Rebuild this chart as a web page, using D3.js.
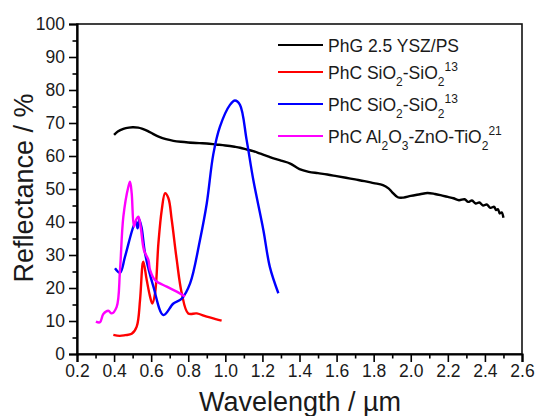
<!DOCTYPE html>
<html>
<head>
<meta charset="utf-8">
<title>Reflectance</title>
<script src="https://d3js.org/d3.v7.min.js"></script>
<style>
  body { margin: 0; background: #fff; }
  text { font-family: "Liberation Sans", Arial, sans-serif; fill: #1a1a1a; }
</style>
</head>
<body>
<div id="chart"></div>
<script>
// data (wavelength in um, reflectance in %)
const phgX = [0.40,0.42,0.45,0.48,0.50,0.53,0.55,0.58,0.61,0.64,0.68,0.72,0.76,0.80,0.86,0.90,0.95,1.00,1.05,1.08,1.12,1.15,1.19,1.23,1.26,1.30,1.35,1.40,1.45,1.50,1.55,1.60,1.65,1.70,1.75,1.80,1.85,1.88,1.90,1.93,1.96,2.00,2.05,2.09,2.13,2.17,2.20,2.23,2.26,2.29,2.31,2.33,2.35,2.37,2.39,2.41,2.43,2.45,2.46,2.47,2.48,2.49,2.50];
const phgY = [66.4,67.4,68.2,68.6,68.7,68.6,68.3,67.6,66.7,65.9,65.1,64.6,64.3,64.1,63.9,63.8,63.5,63.2,62.8,62.5,61.9,61.5,60.7,59.9,59.3,58.6,57.7,56.0,55.2,54.8,54.4,53.9,53.4,52.9,52.4,51.8,51.2,50.2,49.0,47.5,47.4,47.9,48.4,48.8,48.5,48.0,47.6,47.2,46.6,46.9,46.1,46.5,45.6,45.9,45.0,45.3,44.3,44.6,43.6,43.9,42.6,42.9,41.3];

const redX = [0.396,0.43,0.46,0.495,0.522,0.54,0.554,0.558,0.576,0.594,0.606,0.621,0.639,0.657,0.675,0.693,0.711,0.738,0.765,0.80,0.846,0.90,0.953,0.98];
const redY = [5.8,5.5,5.7,6.1,8.3,16.4,27.4,28.0,22.4,17.4,15.3,18.4,33.5,43.6,48.7,47.2,40.6,28.5,18.4,12.3,12.3,11.3,10.5,10.1];

const blueX = [0.405,0.432,0.459,0.504,0.518,0.527,0.536,0.549,0.567,0.612,0.666,0.72,0.765,0.81,0.863,0.90,0.935,0.971,1.025,1.052,1.079,1.115,1.151,1.205,1.24,1.286];
const blueY = [26.0,24.6,29.5,38.6,40.1,38.1,40.8,38.1,30.5,20.4,11.8,15.3,16.8,21.4,34.5,45.7,60.5,68.9,75.5,76.8,75.5,64.8,52.7,37.6,26.4,18.4];

const magX = [0.302,0.324,0.342,0.369,0.387,0.414,0.432,0.45,0.477,0.486,0.495,0.507,0.518,0.531,0.543,0.561,0.585,0.594,0.621,0.684,0.738,0.783];
const magY = [9.8,9.6,12.1,13.1,12.3,14.3,25.5,41.6,50.7,52.2,48.7,38.6,40.6,41.6,38.6,31.5,28.5,25.5,22.4,20.4,18.9,17.4];

const xTicks = [0.2,0.4,0.6,0.8,1.0,1.2,1.4,1.6,1.8,2.0,2.2,2.4,2.6];
const yTicks = [0,10,20,30,40,50,60,70,80,90,100];

const series = [
  {x: phgX, y: phgY, color: "#000000"},
  {x: redX, y: redY, color: "#ff0000"},
  {x: blueX, y: blueY, color: "#0000ff"},
  {x: magX, y: magY, color: "#ff00ff"}
];

const W = 536, H = 416;
const margin = {top: 24, right: 14, bottom: 62, left: 77};
const w = W - margin.left - margin.right;
const h = H - margin.top - margin.bottom;

const svg = d3.select("#chart").append("svg")
    .attr("width", W).attr("height", H);
const g = svg.append("g")
    .attr("transform", "translate(" + margin.left + "," + margin.top + ")");

const x = d3.scaleLinear().domain([0.2, 2.6]).range([0, w]);
const y = d3.scaleLinear().domain([0, 100]).range([h, 0]);

// curves
const line = d3.line().x(d => x(d[0])).y(d => y(d[1])).curve(d3.curveCatmullRom.alpha(0.5));
series.forEach(s => {
  g.append("path")
    .datum(s.x.map((v, i) => [v, s.y[i]]))
    .attr("fill", "none")
    .attr("stroke", s.color)
    .attr("stroke-width", 2.4)
    .attr("stroke-linejoin", "round")
    .attr("d", line);
});

// frame
g.append("rect").attr("width", w).attr("height", h)
  .attr("fill", "none").attr("stroke", "#111").attr("stroke-width", 1.6);

// minor ticks
const xMinor = d3.range(0.3, 2.6, 0.2);
const yMinor = d3.range(5, 100, 10);
g.append("g").attr("transform", "translate(0," + h + ")")
  .call(d3.axisBottom(x).tickValues(xMinor).tickSize(4.5).tickFormat(""))
  .call(a => a.select(".domain").remove())
  .selectAll("line").attr("stroke-width", 1.6);
g.append("g")
  .call(d3.axisLeft(y).tickValues(yMinor).tickSize(4.5).tickFormat(""))
  .call(a => a.select(".domain").remove())
  .selectAll("line").attr("stroke-width", 1.6);

// major axes
const xAxis = g.append("g").attr("transform", "translate(0," + h + ")")
  .call(d3.axisBottom(x).tickValues(xTicks).tickSize(8).tickPadding(3).tickFormat(d3.format(".1f")));
const yAxis = g.append("g")
  .call(d3.axisLeft(y).tickValues(yTicks).tickSize(8).tickPadding(4));
[xAxis, yAxis].forEach(a => {
  a.select(".domain").attr("stroke-width", 2.2);
  a.selectAll("line").attr("stroke-width", 1.6);
  a.selectAll("text").style("font-size", "17.5px")
    .style("font-family", "'Liberation Sans', Arial, sans-serif").attr("fill", "#1a1a1a");
});

// axis titles
svg.append("text")
  .attr("x", 300).attr("y", 411)
  .attr("text-anchor", "middle")
  .style("font-size", "27px")
  .text("Wavelength / µm");
svg.append("text")
  .attr("transform", "translate(33,188) rotate(-90)")
  .attr("text-anchor", "middle")
  .style("font-size", "27px")
  .text("Reflectance / %");

// legend
const legendRows = [
  {color: "#000000", y: 45, parts: [["PhG 2.5 YSZ/PS", 0]]},
  {color: "#ff0000", y: 72, parts: [["PhC SiO", 0], ["2", 1], ["-SiO", 0], ["2", 1], ["13", 2]]},
  {color: "#0000ff", y: 104, parts: [["PhC SiO", 0], ["2", 1], ["-SiO", 0], ["2", 1], ["13", 2]]},
  {color: "#ff00ff", y: 136, parts: [["PhC Al", 0], ["2", 1], ["O", 0], ["3", 1], ["-ZnO-TiO", 0], ["2", 1], ["21", 2]]}
];
const leg = svg.append("g");
legendRows.forEach(r => {
  leg.append("line")
    .attr("x1", 278).attr("x2", 323).attr("y1", r.y).attr("y2", r.y)
    .attr("stroke", r.color).attr("stroke-width", 2.2);
  const t = leg.append("text").attr("x", 328).attr("y", r.y + 7).style("font-size", "17.5px");
  let prev = 0;
  r.parts.forEach(p => {
    const shift = [0, 7, -8][p[1]];
    const ts = t.append("tspan").text(p[0]).attr("dy", shift - prev);
    if (p[1] > 0) ts.style("font-size", "12px");
    prev = shift;
  });
});
</script>
</body>
</html>
